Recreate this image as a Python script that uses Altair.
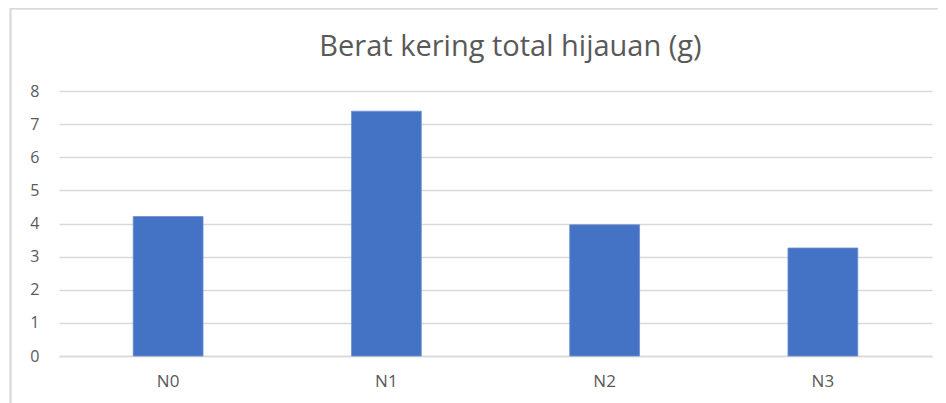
import altair as alt
import pandas as pd

categories = ["N0", "N1", "N2", "N3"]
values = [4.21, 7.39, 3.96, 3.26]
y_ticks = [0, 1, 2, 3, 4, 5, 6, 7, 8]

df = pd.DataFrame({"kategori": categories, "nilai": values})

W, H = 873, 265

bars = alt.Chart(df).mark_bar(color="#4472C4", stroke="#6f8fd0", strokeWidth=0.8).encode(
    x=alt.X("kategori:N", sort=categories,
            scale=alt.Scale(paddingInner=0.68, paddingOuter=0.34),
            axis=alt.Axis(title=None, labelAngle=0, ticks=False, domain=True,
                          domainColor="#d9d9d9", domainWidth=1.5,
                          labelPadding=17, labelFontSize=17, labelColor="#595959",
                          labelFont="Open Sans")),
    y=alt.Y("nilai:Q", scale=alt.Scale(domain=[0, 8], nice=False),
            axis=alt.Axis(title=None, values=y_ticks, labelOverlap=False,
                          domain=False, ticks=False,
                          grid=True, gridColor="#d9d9d9", gridWidth=1.5,
                          labelPadding=20, labelFontSize=16, labelColor="#595959",
                          labelFont="Open Sans")),
)

frame_left = alt.Chart(df).mark_rule(color="#d9d9d9", strokeWidth=1.5, clip=False).encode(
    x=alt.value(-48.5), y=alt.value(-82.5), y2=alt.value(H + 60)
)
frame_top = alt.Chart(df).mark_rule(color="#d9d9d9", strokeWidth=1.5, clip=False).encode(
    x=alt.value(-48.5), x2=alt.value(W + 30), y=alt.value(-82.5)
)

chart = alt.layer(frame_left, frame_top, bars).properties(
    width=W, height=H,
    background="white",
    title=alt.TitleParams("Berat kering total hijauan (g)", fontSize=29,
                          font="Open Sans", fontWeight="normal", color="#595959",
                          anchor="middle", dx=15, offset=-83, baseline="bottom"),
    autosize=alt.AutoSizeParams(type="none"),
    padding={"left": 51, "top": 83, "right": 6, "bottom": 47},
).configure_view(stroke=None)

chart.save("out.html", embed_options={"renderer": "svg", "actions": False})
